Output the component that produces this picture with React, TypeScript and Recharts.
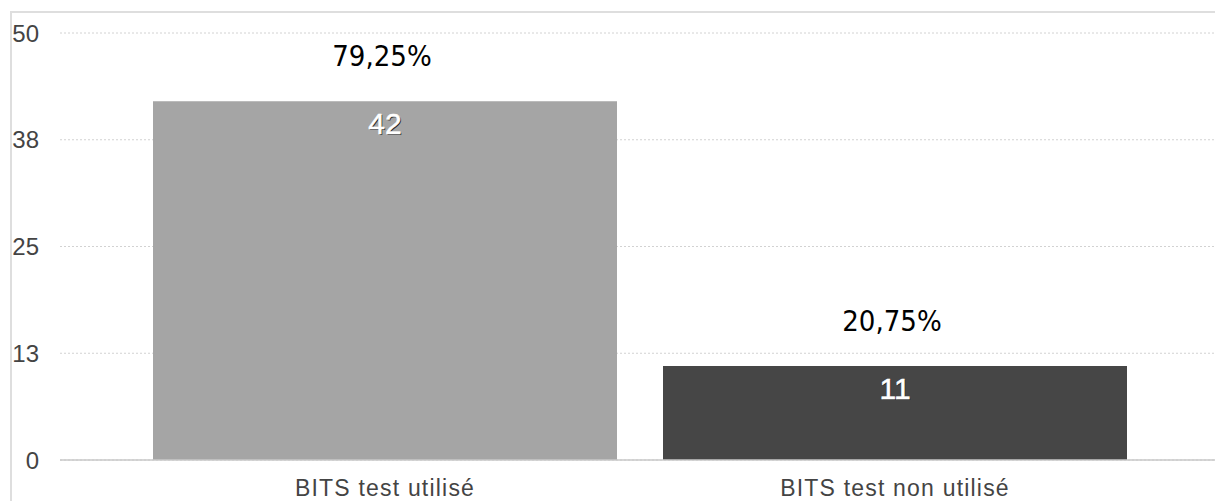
import { ComposedChart, Bar, CartesianGrid, XAxis, YAxis, Cell, LabelList } from "recharts"

const categories = ["BITS test utilisé", "BITS test non utilisé"]
const counts = [42, 11]
const percents = ["79,25%", "20,75%"]
const barColors = ["#a5a5a5", "#464646"]
const yTicks = [0, 12.5, 25, 37.5, 50]

const data = categories.map((name, i) => ({ name, count: counts[i], pct: percents[i] }))

const PctLabel = (props: any) => {
  const { x, y, width, index } = props
  return (
    <text
      x={x + width / 2 - 3}
      y={y - 45}
      textAnchor="middle"
      dominantBaseline="central"
      fontFamily="'DejaVu Sans Condensed', 'DejaVu Sans', sans-serif"
      fontSize={29}
      fill="#000"
    >
      {percents[index]}
    </text>
  )
}

const CountLabel = (props: any) => {
  const { x, y, width, value } = props
  const cx = x + width / 2
  const common = {
    textAnchor: "middle" as const,
    dominantBaseline: "central" as const,
    fontFamily: "'Liberation Sans', Arial, sans-serif",
    fontSize: 30,
  }
  return (
    <g>
      <text x={cx + 1} y={y + 23.5} fill="#2a2a2a" {...common}>{value}</text>
      <text x={cx} y={y + 22} fill="#fff" stroke="#fff" strokeWidth={0.5} {...common}>{value}</text>
    </g>
  )
}

const App = () => {
  return (
    <div style={{ position: "absolute", left: 0, top: 0, width: 1215, height: 501, overflow: "hidden", background: "#fff" }}>
      <div
        style={{
          position: "absolute",
          left: 10,
          top: 11,
          width: 1205,
          height: 490,
          boxSizing: "border-box",
          borderTop: "2px solid #dedede",
          borderLeft: "2px solid #dedede",
        }}
      />
      <div style={{ position: "absolute", left: 0, top: 0 }}>
        <ComposedChart width={1215} height={501} data={data} margin={{ top: 33, right: 0, bottom: 0, left: 0 }} barCategoryGap={23}>
          <CartesianGrid vertical={false} stroke="#d2d2d2" strokeDasharray="2 2" />
          <XAxis
            dataKey="name"
            height={41}
            padding={{ left: 70, right: 65 }}
            axisLine={{ stroke: "#c8c8c8", strokeWidth: 1.5 }}
            tickLine={false}
            tickSize={0}
            tickMargin={20}
            tick={{ fill: "#444", fontSize: 23, fontFamily: "'Liberation Sans', Arial, sans-serif", letterSpacing: 1.2 }}
          />
          <YAxis
            width={60}
            domain={[0, 50]}
            ticks={yTicks}
            tickFormatter={(v: number) => String(Math.round(v))}
            axisLine={false}
            tickLine={false}
            tickSize={0}
            tickMargin={21}
            tick={{ fill: "#444", fontSize: 24, fontFamily: "'Liberation Sans', Arial, sans-serif" }}
          />
          <Bar dataKey="count" isAnimationActive={false}>
            {data.map((d, i) => (
              <Cell key={d.name} fill={barColors[i]} />
            ))}
            <LabelList dataKey="pct" content={PctLabel} />
            <LabelList dataKey="count" content={CountLabel} />
          </Bar>
        </ComposedChart>
      </div>
    </div>
  )
}

export default App
